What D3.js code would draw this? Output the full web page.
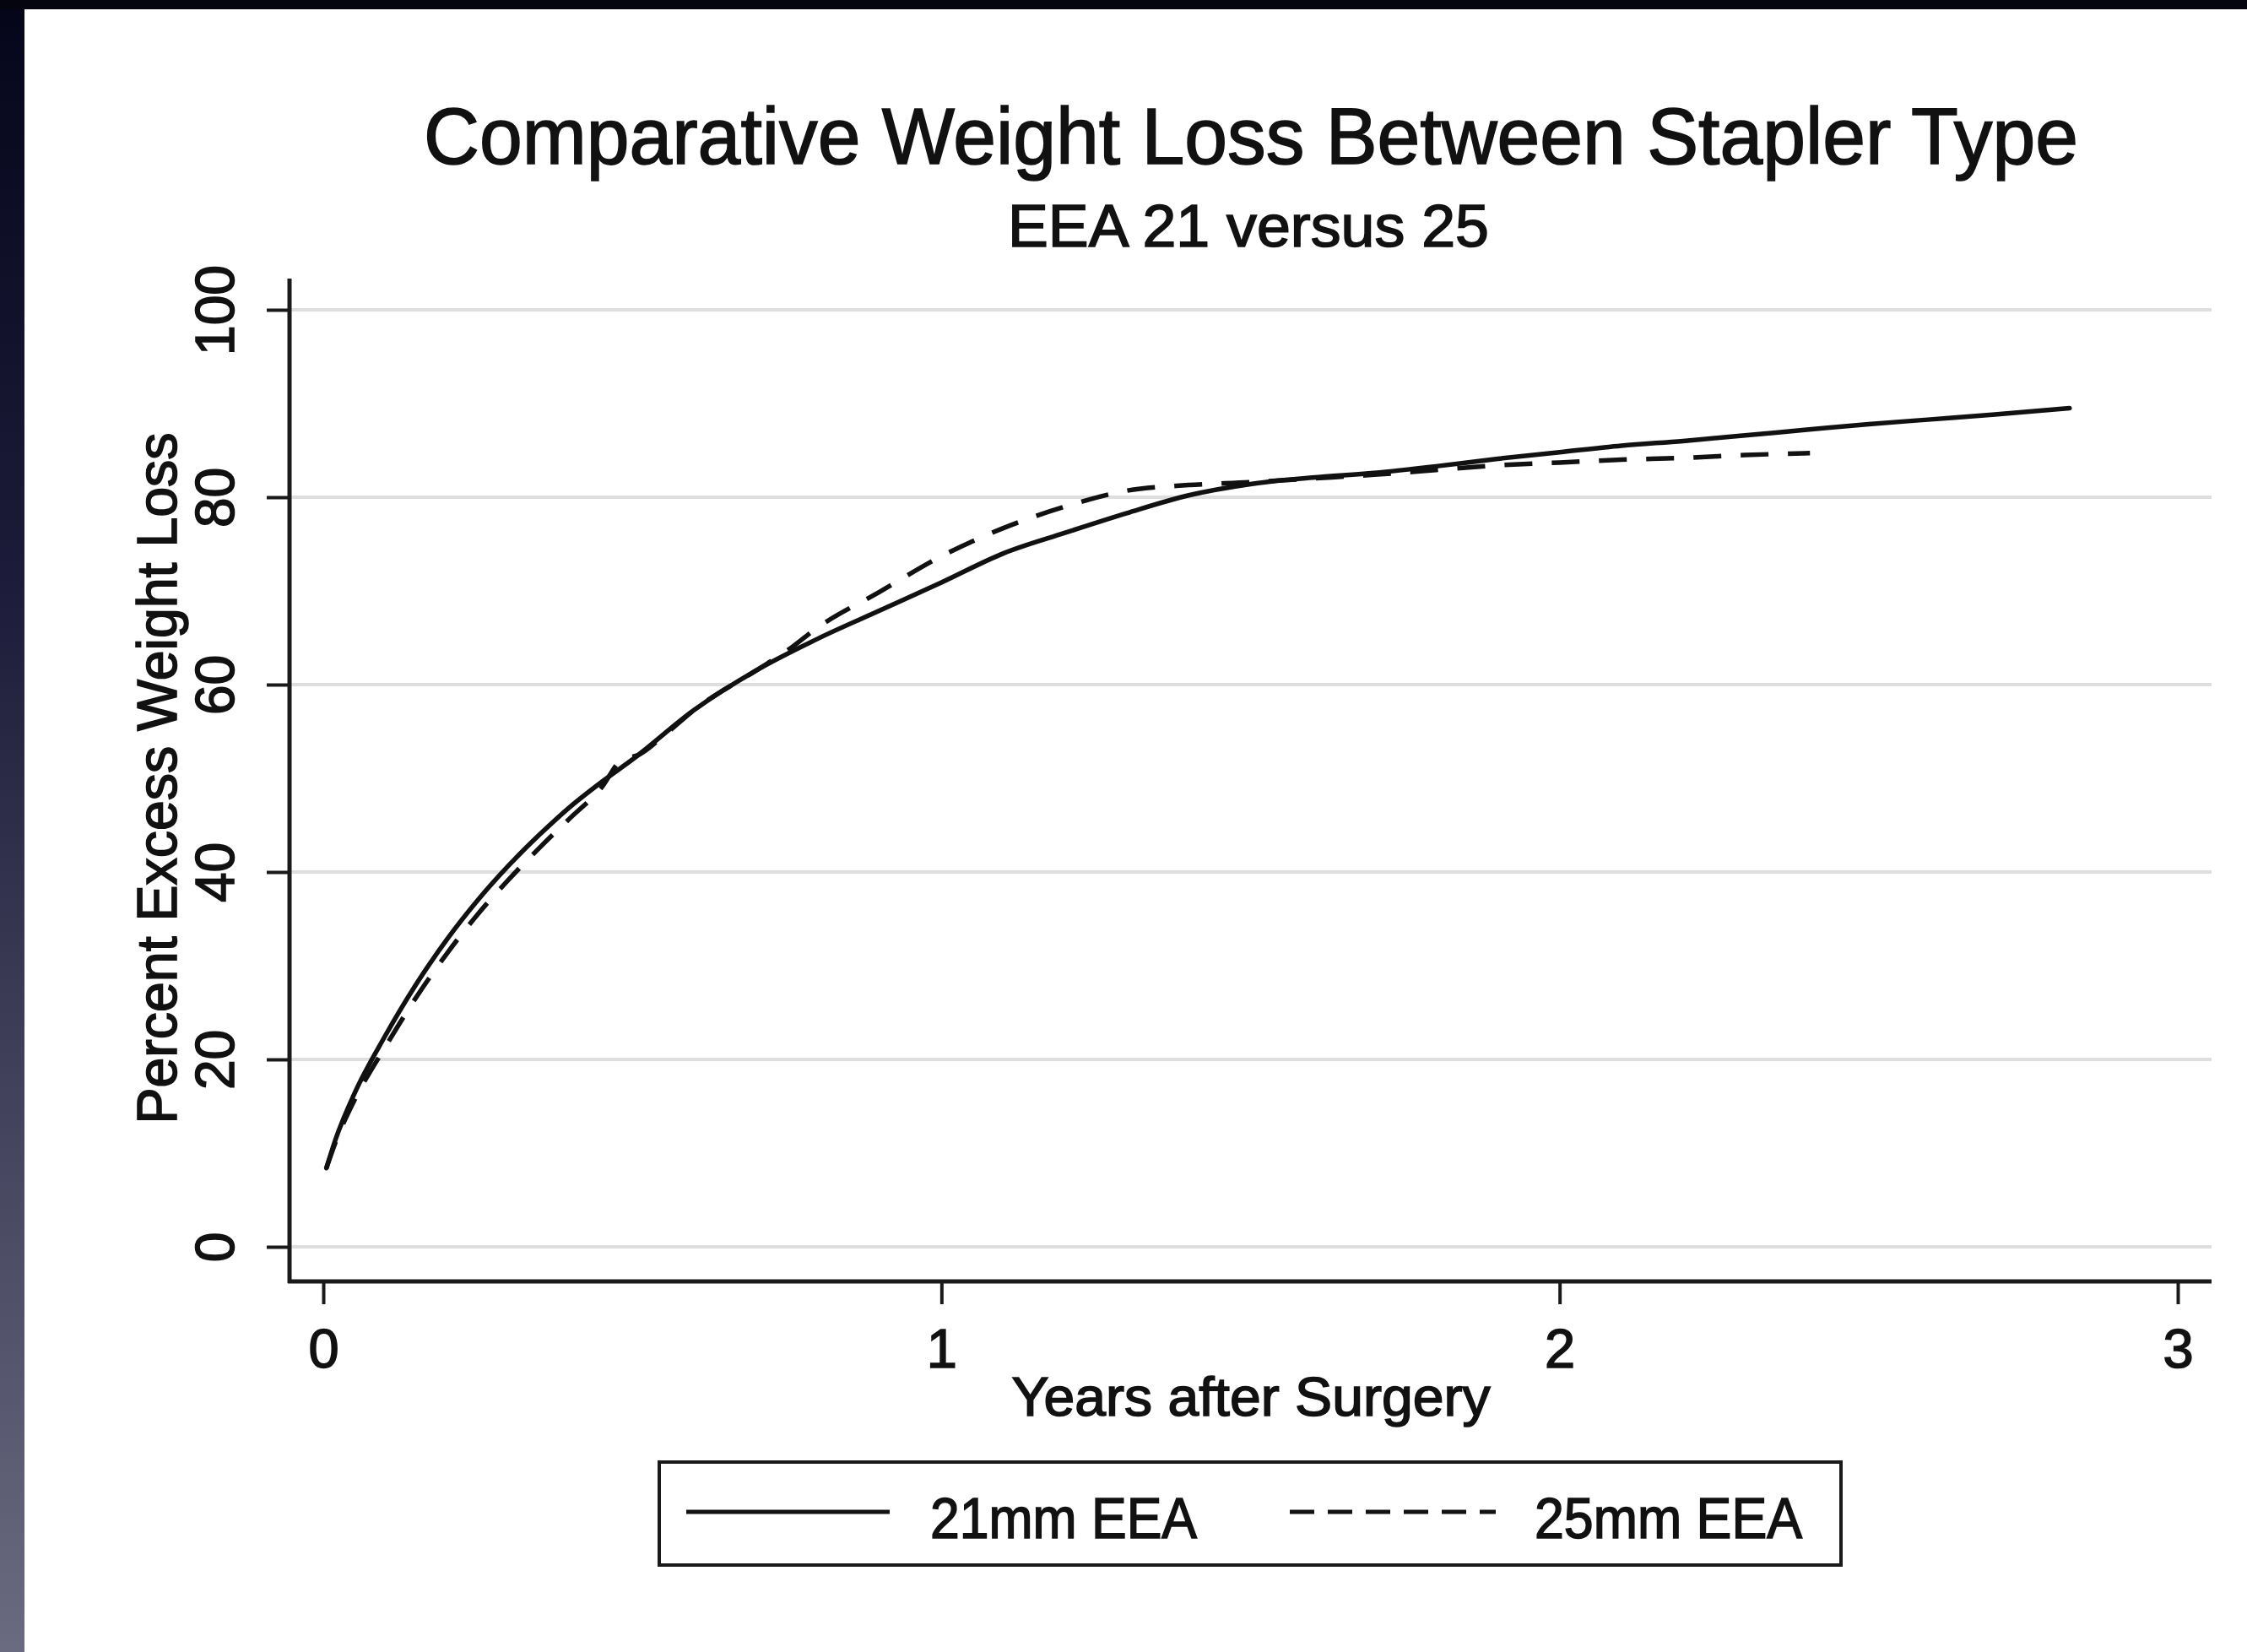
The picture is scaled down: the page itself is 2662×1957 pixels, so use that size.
<!DOCTYPE html>
<html>
<head>
<meta charset="utf-8">
<script src="https://cdn.jsdelivr.net/npm/d3@7"></script>
<style>
  html, body { margin: 0; padding: 0; background: #ffffff; }
  svg { display: block; }
  text { font-family: "Liberation Sans", Arial, Helvetica, sans-serif; fill: #111; stroke: #111; stroke-width: 1.6px; paint-order: stroke; }
</style>
</head>
<body>
<svg id="chart" width="2662" height="1957"></svg>
<script>
// ---------- data ----------
const chartTitle = "Comparative Weight Loss Between Stapler Type";
const chartSubtitle = "EEA 21 versus 25";
const xTitle = "Years after Surgery";
const yTitle = "Percent Excess Weight Loss";
const seriesNames = ["21mm EEA", "25mm EEA"];

const xTicks = [0, 1, 2, 3];
const yTicks = [0, 20, 40, 60, 80, 100];

// 21mm EEA (solid)
const years21 = [0.005, 0.02, 0.05, 0.1, 0.15, 0.2, 0.25, 0.3, 0.35, 0.4, 0.45, 0.5, 0.6, 0.7, 0.8, 0.9, 1.0, 1.1, 1.2, 1.3, 1.4, 1.5, 1.6, 1.7, 1.8, 1.9, 2.0, 2.1, 2.2, 2.3, 2.4, 2.5, 2.6, 2.7, 2.825];
const pewl21  = [8.4, 11.5, 16.3, 22.5, 28.0, 32.8, 37.0, 40.7, 44.0, 47.0, 49.6, 52.0, 57.3, 61.5, 64.9, 67.9, 70.9, 74.0, 76.2, 78.3, 80.2, 81.4, 82.1, 82.6, 83.3, 84.1, 84.8, 85.5, 86.0, 86.6, 87.2, 87.8, 88.3, 88.8, 89.5];

// 25mm EEA (dashed)
const years25 = [0.005, 0.02, 0.05, 0.1, 0.15, 0.2, 0.25, 0.3, 0.35, 0.4, 0.45, 0.483, 0.51, 0.55, 0.6, 0.7, 0.75, 0.8, 0.9, 1.0, 1.1, 1.2, 1.3, 1.4, 1.5, 1.6, 1.7, 1.8, 1.9, 2.0, 2.1, 2.2, 2.3, 2.405];
const pewl25  = [8.4, 11.2, 15.6, 21.3, 26.6, 31.3, 35.5, 39.2, 42.6, 45.8, 49.0, 52.0, 52.5, 54.5, 57.3, 61.5, 63.6, 66.1, 69.9, 73.7, 76.7, 79.0, 80.7, 81.3, 81.6, 82.0, 82.4, 82.9, 83.4, 83.7, 84.0, 84.2, 84.5, 84.7];

// ---------- layout ----------
const W = 2662, H = 1957;
const frame = { left: 343, right: 2620, top: 330, bottom: 1518 };
const inner = { x0: 383, x1: 2580, y0: 1477, y1: 367 };
const ink = "#1a1a1a";

const svg = d3.select("#chart");

// slide background bands
const defs = svg.append("defs");
const grad = defs.append("linearGradient").attr("id", "leftband")
  .attr("x1", 0).attr("y1", 0).attr("x2", 0).attr("y2", 1);
grad.append("stop").attr("offset", "0%").attr("stop-color", "#05051a");
grad.append("stop").attr("offset", "35%").attr("stop-color", "#1c1c3a");
grad.append("stop").attr("offset", "100%").attr("stop-color", "#6a6a80");

svg.append("rect").attr("x", 0).attr("y", 0).attr("width", W).attr("height", H).attr("fill", "#fff");
svg.append("rect").attr("x", 0).attr("y", 0).attr("width", 29).attr("height", H).attr("fill", "url(#leftband)");
svg.append("rect").attr("x", 0).attr("y", 0).attr("width", W).attr("height", 11).attr("fill", "#05050f");

// scales
const x = d3.scaleLinear().domain([0, 3]).range([inner.x0, inner.x1]);
const y = d3.scaleLinear().domain([0, 100]).range([inner.y0, inner.y1]);

function fitText(sel, targetWidth) {
  sel.attr("textLength", targetWidth).attr("lengthAdjust", "spacingAndGlyphs");
}

// gridlines
svg.append("g").selectAll("line").data(yTicks).join("line")
  .attr("x1", frame.left).attr("x2", frame.right)
  .attr("y1", d => y(d)).attr("y2", d => y(d))
  .attr("stroke", "#dedede").attr("stroke-width", 4);

// y axis
const yAxisG = svg.append("g").attr("transform", `translate(${frame.left},0)`)
  .call(d3.axisLeft(y).tickValues(yTicks).tickSize(27).tickPadding(0).tickFormat(d3.format("d")));
yAxisG.select(".domain").remove();
yAxisG.selectAll(".tick line").attr("stroke", ink).attr("stroke-width", 4);
yAxisG.selectAll(".tick text")
  .attr("x", null).attr("dy", null)
  .attr("transform", "translate(-66,0) rotate(-90)")
  .attr("text-anchor", "middle")
  .attr("font-size", 64)
  .attr("fill", "#111");

// x axis
const xAxisG = svg.append("g").attr("transform", `translate(0,${frame.bottom})`)
  .call(d3.axisBottom(x).tickValues(xTicks).tickSize(27).tickPadding(0).tickFormat(d3.format("d")));
xAxisG.select(".domain").remove();
xAxisG.selectAll(".tick line").attr("stroke", ink).attr("stroke-width", 4);
xAxisG.selectAll(".tick text")
  .attr("y", 102).attr("dy", null)
  .attr("font-size", 65)
  .attr("fill", "#111");

// axis lines (frame)
svg.append("line").attr("x1", frame.left).attr("x2", frame.left)
  .attr("y1", frame.top).attr("y2", frame.bottom + 2)
  .attr("stroke", ink).attr("stroke-width", 5);
svg.append("line").attr("x1", frame.left - 2).attr("x2", frame.right)
  .attr("y1", frame.bottom).attr("y2", frame.bottom)
  .attr("stroke", ink).attr("stroke-width", 5);

// curves
const line = d3.line().x(d => x(d[0])).y(d => y(d[1])).curve(d3.curveMonotoneX);
const s21 = years21.map((t, i) => [t, pewl21[i]]);
const s25 = years25.map((t, i) => [t, pewl25[i]]);

svg.append("path").datum(s21).attr("d", line)
  .attr("fill", "none").attr("stroke", "#111").attr("stroke-width", 5.5)
  .attr("stroke-linejoin", "round").attr("stroke-linecap", "round");
svg.append("path").datum(s25).attr("d", line)
  .attr("fill", "none").attr("stroke", "#111").attr("stroke-width", 5.5)
  .attr("stroke-dasharray", "33,23");

// titles
svg.append("text").attr("x", 1482).attr("y", 194).attr("text-anchor", "middle")
  .attr("font-size", 95).text(chartTitle).call(fitText, 1960);
svg.append("text").attr("x", 1479).attr("y", 292).attr("text-anchor", "middle")
  .attr("font-size", 70).text(chartSubtitle).call(fitText, 570);
svg.append("text").attr("x", 1482).attr("y", 1677).attr("text-anchor", "middle")
  .attr("font-size", 65).text(xTitle).call(fitText, 567);
svg.append("text").attr("transform", `translate(209,${(inner.y0 + inner.y1) / 2}) rotate(-90)`)
  .attr("text-anchor", "middle")
  .attr("font-size", 66).text(yTitle).call(fitText, 819);

// legend
const lg = svg.append("g");
lg.append("rect").attr("x", 781).attr("y", 1732).attr("width", 1400).attr("height", 122)
  .attr("fill", "#fff").attr("stroke", ink).attr("stroke-width", 4);
lg.append("line").attr("x1", 813).attr("x2", 1054).attr("y1", 1791).attr("y2", 1791)
  .attr("stroke", "#111").attr("stroke-width", 5);
lg.append("line").attr("x1", 1528).attr("x2", 1772).attr("y1", 1791).attr("y2", 1791)
  .attr("stroke", "#111").attr("stroke-width", 5).attr("stroke-dasharray", "29,16");
lg.append("text").attr("x", 1102).attr("y", 1822).attr("font-size", 68)
  .text(seriesNames[0]).call(fitText, 316);
lg.append("text").attr("x", 1818).attr("y", 1822).attr("font-size", 68)
  .text(seriesNames[1]).call(fitText, 317);
</script>
</body>
</html>
